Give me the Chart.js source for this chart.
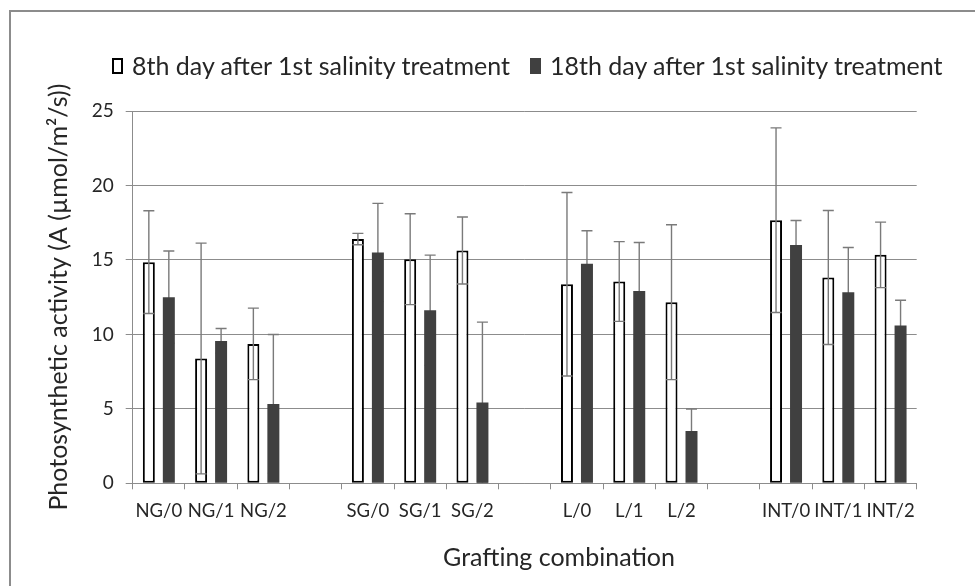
<!DOCTYPE html>
<html lang="en">
<head>
    <meta charset="UTF-8">
    <title>Photosynthetic activity by grafting combination</title>
    <script src="https://cdn.jsdelivr.net/npm/chart.js"></script>
    <style>
        body { margin: 0; background: #fff; overflow: hidden; font-family: Lato, sans-serif; color: #262626; }
        #frame { position: absolute; left: 9px; top: 10px; width: 1100px; height: 700px;
                 border-left: 2px solid #8c8c8c; border-top: 2px solid #8c8c8c; }
        #wrap { position: absolute; left: 0; top: 0; width: 975px; height: 586px; }
        #legend { position: absolute; left: 112px; top: 53px; display: flex; align-items: center;
                  font-size: 25px; line-height: 25px; white-space: nowrap; }
        #legend .item { display: flex; align-items: center; margin-right: 20px; }
        #legend .box { box-sizing: border-box; width: 11px; height: 16px; margin-right: 9px; }
        #xTitle { position: absolute; left: 559px; top: 544px; transform: translateX(-50%);
                  font-size: 25px; line-height: 25px; white-space: nowrap; }
    </style>
</head>
<body>
    <div id="frame"></div>
    <div id="wrap"><canvas id="chart"></canvas></div>
    <div id="legend"></div>
    <div id="xTitle">Grafting combination</div>

    <script>
        // categories (empty slots separate the groups)
        const categories = ['NG/0', 'NG/1', 'NG/2', '', 'SG/0', 'SG/1', 'SG/2', '',
                            'L/0', 'L/1', 'L/2', '', 'INT/0', 'INT/1', 'INT/2'];

        const day8 = [14.85, 8.38, 9.36, null, 16.4, 15.05, 15.63, null,
                      13.37, 13.55, 12.16, null, 17.67, 13.82, 15.34];
        const day8Err = [3.45, 7.75, 2.4, null, 0.38, 3.05, 2.25, null,
                         6.16, 2.68, 5.2, null, 6.2, 4.5, 2.2];

        const day18 = [12.5, 9.56, 5.33, null, 15.5, 11.62, 5.42, null,
                       14.74, 12.92, 3.51, null, 16.01, 12.83, 10.59];
        const day18Err = [3.1, 0.83, 4.66, null, 3.3, 3.7, 5.4, null,
                          2.22, 3.25, 1.48, null, 1.64, 3.0, 1.7];

        const yTicks = [0, 5, 10, 15, 20, 25];

        const gridColor = '#8c8c8c';
        const textColor = '#262626';

        // error bars: the dark series is drawn under its bars, so only the upper half shows
        function drawErrors(chart, index) {
            const ds = chart.data.datasets[index];
            const meta = chart.getDatasetMeta(index);
            const y = chart.scales.y;
            const ctx = chart.ctx;
            ctx.save();
            ctx.strokeStyle = '#7a7a7a';
            ctx.lineWidth = 1.4;
            meta.data.forEach((bar, i) => {
                const v = ds.data[i], e = ds.errors[i];
                if (v == null || e == null) return;
                const top = y.getPixelForValue(v + e);
                const bottom = y.getPixelForValue(v - e);
                ctx.beginPath();
                ctx.moveTo(bar.x, top);
                ctx.lineTo(bar.x, bottom);
                ctx.moveTo(bar.x - 5.5, top);
                ctx.lineTo(bar.x + 5.5, top);
                ctx.moveTo(bar.x - 5.5, bottom);
                ctx.lineTo(bar.x + 5.5, bottom);
                ctx.stroke();
            });
            ctx.restore();
        }

        const errorBars = {
            id: 'errorBars',
            beforeDatasetsDraw(chart) { drawErrors(chart, 1); },
            afterDatasetsDraw(chart) { drawErrors(chart, 0); }
        };

        const chart = new Chart(document.getElementById('chart'), {
            type: 'bar',
            data: {
                labels: categories,
                datasets: [{
                    label: '8th day after 1st salinity treatment',
                    data: day8,
                    errors: day8Err,
                    backgroundColor: '#ffffff',
                    borderColor: '#000000',
                    borderWidth: 2,
                    borderSkipped: false
                }, {
                    label: '18th day after 1st salinity treatment',
                    data: day18,
                    errors: day18Err,
                    backgroundColor: '#404040',
                    borderWidth: 0
                }]
            },
            options: {
                responsive: true,
                maintainAspectRatio: false,
                animation: false,
                categoryPercentage: 0.765,
                barPercentage: 0.6,
                layout: { padding: { top: 111, right: 58.3, bottom: 0, left: 0 } },
                plugins: {
                    legend: { display: false },
                    tooltip: { enabled: false }
                },
                scales: {
                    x: {
                        afterFit: s => { s.height = 102.7; },
                        grid: { offset: true, drawOnChartArea: false, tickLength: 6, color: gridColor },
                        border: { color: gridColor },
                        ticks: {
                            autoSkip: false, maxRotation: 0, padding: 11,
                            color: textColor, font: { family: 'Lato', size: 18.5 }
                        }
                    },
                    y: {
                        min: 0,
                        max: 25,
                        afterFit: s => { s.width = 132.7; },
                        afterBuildTicks: s => { s.ticks = yTicks.map(v => ({ value: v })); },
                        grid: { color: gridColor, tickLength: 7 },
                        border: { color: gridColor },
                        ticks: { padding: 12, color: textColor, font: { family: 'Lato', size: 19 } },
                        title: {
                            display: true,
                            text: 'Photosynthetic activity (A (\u00b5mol/m\u00b2/s))',
                            color: textColor,
                            font: { family: 'Lato', size: 25 },
                            padding: { top: 44, bottom: 0 }
                        }
                    }
                }
            },
            plugins: [errorBars]
        });

        // legend built from the datasets
        const legendEl = document.getElementById('legend');
        chart.data.datasets.forEach(ds => {
            const item = document.createElement('span');
            item.className = 'item';
            const box = document.createElement('span');
            box.className = 'box';
            box.style.background = ds.backgroundColor;
            if (ds.borderWidth) box.style.border = ds.borderWidth + 'px solid ' + ds.borderColor;
            item.appendChild(box);
            item.appendChild(document.createTextNode(ds.label));
            legendEl.appendChild(item);
        });
    </script>
</body>
</html>
